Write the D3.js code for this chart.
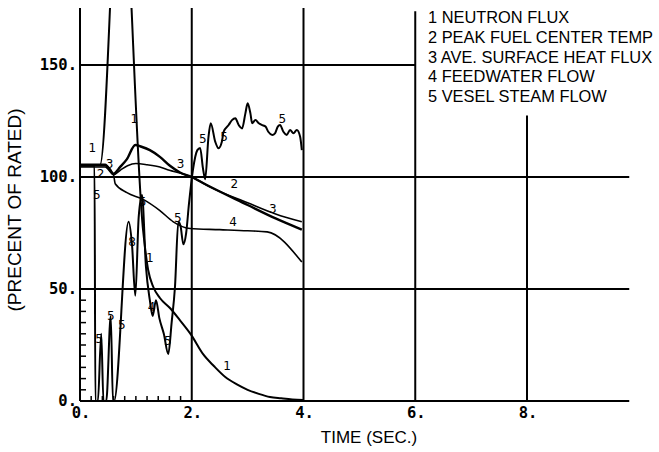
<!DOCTYPE html>
<html lang="en">
    <head>
        <meta charset="utf-8">
        <title>D3</title>
        <script type="text/javascript" src="https://cdnjs.cloudflare.com/ajax/libs/d3/7.8.5/d3.min.js"></script>
        <style type="text/css">
            body { margin: 0; background: #fff; }
        </style>
    </head>
    <body>
        <script type="text/javascript">
            var w = 659;
            var h = 452;

            // 1 neutron flux
            var fluxT = [0, 0.358, 0.72, 1.13, 1.22, 1.31, 1.43, 1.61, 1.79, 1.99, 2.2, 2.4, 2.6, 2.8, 3.0, 3.2, 3.4, 3.6, 3.8, 4.0];
            var fluxV = [105.4, 105.4, 248, 76, 58.5, 51, 46, 41.5, 36, 29.5, 21, 15.5, 10.7, 7.5, 5, 3.2, 1.8, 1.2, 0.7, 0.5];

            // 2 peak fuel center temp
            var tempT = [0, 0.45, 0.6, 0.72, 0.85, 1.0, 1.2, 1.43, 1.6, 1.79, 2.0, 2.33, 3.0, 3.5, 3.97];
            var tempV = [104.5, 104.5, 101, 103, 105, 106, 105.5, 104.5, 103, 101.8, 100, 95.5, 88.5, 83.5, 80];

            // 3 ave. surface heat flux
            var heatT = [0, 0.45, 0.6, 0.72, 0.84, 0.99, 1.1, 1.25, 1.43, 1.61, 1.79, 2.0, 2.2, 3.0, 3.5, 3.97];
            var heatV = [105.5, 105.5, 101.5, 104.5, 108, 114.3, 113.5, 112, 109, 105, 102, 100, 97.3, 87.5, 81.5, 76.5];

            // 4 feedwater flow
            var feedT = [0, 0.45, 0.6, 0.63, 0.84, 1.13, 1.43, 1.67, 1.97, 2.5, 3.0, 3.35, 3.97];
            var feedV = [105, 105, 101, 97, 93, 90, 85, 80, 77, 76.5, 76, 75.5, 62];

            // 5 vesel steam flow
            var steamT = [0, 0.26, 0.275, 0.32, 0.38, 0.42, 0.47, 0.55, 0.59, 0.61, 0.87, 0.93, 0.99, 1.05, 1.11, 1.18, 1.25, 1.3, 1.36, 1.42, 1.5, 1.58, 1.64, 1.7, 1.76, 1.8, 1.85, 1.9, 1.95, 2.02, 2.1, 2.15, 2.2, 2.24, 2.3, 2.34,
                          2.42, 2.48, 2.54, 2.57, 2.66, 2.72, 2.78, 2.84, 2.9, 2.96, 3.0, 3.05, 3.08, 3.14, 3.2, 3.26, 3.32, 3.37, 3.44, 3.49, 3.54, 3.58, 3.64, 3.7, 3.76, 3.82, 3.88, 3.94, 3.97];
            var steamV = [105, 105, 0, 0, 30, 0, 0, 38, 0, 0, 80, 70, 47, 82, 92, 60, 45, 38, 45, 37, 30, 21, 35, 51, 80, 78, 70, 75, 88, 103, 112, 113, 104, 99, 118, 124,
                          115.8, 112.8, 115.8, 120.2, 123.2, 125.4, 126.2, 123.2, 121.7, 128.4, 132.9, 128.4, 124, 125.4, 124, 123.2, 122.5, 120.2, 118.8, 119.5, 122.5, 123.2, 120.2, 118.8, 121, 119.5, 121, 118, 112];

            var seriesT = [fluxT, tempT, heatT, feedT, steamT];
            var seriesV = [fluxV, tempV, heatV, feedV, steamV];
            var seriesWidth = [2, 1.5, 2.4, 1.6, 2];

            var legendItems = ["1 NEUTRON FLUX", "2 PEAK FUEL CENTER TEMP", "3 AVE. SURFACE HEAT FLUX", "4 FEEDWATER FLOW", "5 VESEL STEAM FLOW"];
            var xTicks = [0, 2, 4, 6, 8];
            var yTicks = [0, 50, 100, 150];

            // hand written curve numbers [text, t, v]
            var curveNotes = [["1", 0.22, 111], ["5", 0.3, 90], ["2", 0.37, 99.5], ["3", 0.53, 104], ["1", 0.97, 124],
                              ["5", 1.12, 87], ["3", 1.8, 104], ["5", 1.75, 80], ["5", 2.2, 115], ["5", 2.58, 116],
                              ["5", 3.62, 124], ["2", 2.76, 95], ["3", 3.45, 84], ["4", 2.74, 78], ["1", 1.25, 62],
                              ["8", 0.93, 69], ["4", 1.28, 40], ["5", 1.57, 25], ["5", 0.34, 26], ["5", 0.55, 36],
                              ["5", 0.75, 32], ["1", 2.63, 14]];

            var x = d3.scaleLinear().domain([0, 8]).range([80, 527]);
            var y = d3.scaleLinear().domain([0, 150]).range([401, 65]);
            var xEnd = 9.83, yTop = 175.4;

            var svg = d3.select("body")
                        .append("svg")
                        .attr("width", w)
                        .attr("height", h);

            // grid, drawn heavy like the scanned original
            var grid = svg.append("g").attr("stroke", "#000").attr("stroke-width", 2);
            [[0, xEnd], [50, xEnd], [100, xEnd], [150, 6]].forEach(function(g) {
                grid.append("line").attr("x1", x(0)).attr("x2", x(g[1]))
                    .attr("y1", y(g[0])).attr("y2", y(g[0]));
            });
            [[0, yTop], [2, yTop], [4, yTop], [6, 174], [8, 127.5]].forEach(function(g) {
                grid.append("line").attr("x1", x(g[0])).attr("x2", x(g[0]))
                    .attr("y1", y(0)).attr("y2", y(g[1]));
            });

            // minor ticks
            d3.range(5, 50, 5).forEach(function(v) {
                grid.append("line").attr("x1", x(0)).attr("x2", x(0) + 6)
                    .attr("y1", y(v)).attr("y2", y(v)).attr("stroke-width", 1.5);
            });
            d3.range(0.2, 2, 0.2).forEach(function(t) {
                grid.append("line").attr("x1", x(t)).attr("x2", x(t))
                    .attr("y1", y(0)).attr("y2", y(0) - 5).attr("stroke-width", 1.5);
            });

            svg.selectAll("text.xt")
               .data(xTicks)
               .enter()
               .append("text")
               .attr("class", "xt")
               .text(function(d) { return d + "."; })
               .attr("x", function(d) { return x(d) + 1; })
               .attr("y", 418)
               .attr("text-anchor", "middle")
               .attr("font-family", "DejaVu Sans Mono")
               .attr("font-weight", "bold")
               .attr("font-size", "15.5px");

            svg.selectAll("text.yt")
               .data(yTicks)
               .enter()
               .append("text")
               .attr("class", "yt")
               .text(function(d) { return d + "."; })
               .attr("x", 77)
               .attr("y", function(d) { return y(d) + 5; })
               .attr("text-anchor", "end")
               .attr("font-family", "DejaVu Sans Mono")
               .attr("font-weight", "bold")
               .attr("font-size", "15.5px");

            svg.append("text")
               .text("TIME (SEC.)")
               .attr("x", 369)
               .attr("y", 443)
               .attr("text-anchor", "middle")
               .attr("font-family", "Liberation Sans")
               .attr("font-size", "17px");

            svg.append("text")
               .text("(PRECENT OF RATED)")
               .attr("transform", "translate(21,210) rotate(-90)")
               .attr("text-anchor", "middle")
               .attr("font-family", "Liberation Sans")
               .attr("font-size", "19px");

            svg.selectAll("text.leg")
               .data(legendItems)
               .enter()
               .append("text")
               .attr("class", "leg")
               .text(function(d) { return d; })
               .attr("x", 428)
               .attr("y", function(d, i) { return 23 + i * 19.8; })
               .attr("font-family", "Liberation Sans")
               .attr("font-size", "16.4px");

            // curves
            svg.append("clipPath").attr("id", "plot")
               .append("rect").attr("x", x(0)).attr("y", y(yTop))
               .attr("width", x(xEnd) - x(0)).attr("height", y(0) - y(yTop));

            var line = d3.line()
                         .x(function(d) { return x(d[0]); })
                         .y(function(d) { return y(d[1]); })
                         .curve(d3.curveMonotoneX);

            svg.append("g")
               .attr("clip-path", "url(#plot)")
               .selectAll("path")
               .data(seriesT)
               .enter()
               .append("path")
               .attr("d", function(d, i) {
                    return line(d.map(function(t, j) { return [t, seriesV[i][j]]; }));
               })
               .attr("fill", "none")
               .attr("stroke", "#000")
               .attr("stroke-width", function(d, i) { return seriesWidth[i]; })
               .attr("stroke-linejoin", "round");

            svg.selectAll("text.note")
               .data(curveNotes)
               .enter()
               .append("text")
               .attr("class", "note")
               .text(function(d) { return d[0]; })
               .attr("x", function(d) { return x(d[1]); })
               .attr("y", function(d) { return y(d[2]); })
               .attr("text-anchor", "middle")
               .attr("font-family", "DejaVu Sans")
               .attr("font-size", "12px");
        </script>
    </body>
</html>
